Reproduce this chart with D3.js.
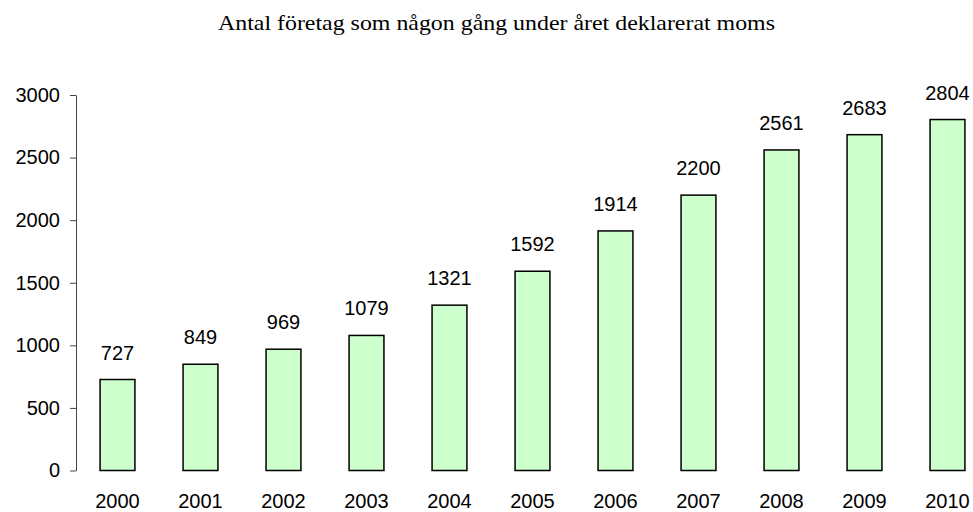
<!DOCTYPE html>
<html>
<head>
<meta charset="utf-8">
<script src="https://cdn.jsdelivr.net/npm/d3@7"></script>
<style>
  body { margin: 0; background: #fff; }
  svg { display: block; }
</style>
</head>
<body>
<svg id="chart"></svg>
<script>
const years = ['2000', '2001', '2002', '2003', '2004', '2005', '2006', '2007', '2008', '2009', '2010'];
const counts = [727, 849, 969, 1079, 1321, 1592, 1914, 2200, 2561, 2683, 2804];
const yTicks = [0, 500, 1000, 1500, 2000, 2500, 3000];
const title = 'Antal företag som någon gång under året deklarerat moms';

const width = 973;
const height = 512;
const labelFont = 'Liberation Sans, Arial, sans-serif';

const svg = d3.select('#chart')
  .attr('width', width)
  .attr('height', height);

const x = d3.scaleBand()
  .domain(years)
  .range([76, 989])
  .paddingInner(0.58)
  .paddingOuter(0.29);

const y = d3.scaleLinear()
  .domain([0, 3000])
  .range([470.5, 95]);

// title
svg.append('text')
  .attr('x', 496.5)
  .attr('y', 30)
  .attr('text-anchor', 'middle')
  .attr('font-family', 'Liberation Serif, Times New Roman, serif')
  .attr('font-size', '21px')
  .attr('textLength', 557)
  .attr('lengthAdjust', 'spacingAndGlyphs')
  .text(title);

// y axis
const yAxis = svg.append('g')
  .attr('transform', 'translate(76,0)')
  .call(d3.axisLeft(y).tickValues(yTicks).tickFormat(d3.format('d'))
    .tickSize(6).tickPadding(10).tickSizeOuter(0));

yAxis.select('.domain').attr('stroke', '#444');
yAxis.selectAll('.tick line').attr('stroke', '#444');
yAxis.selectAll('text')
  .attr('font-family', labelFont)
  .attr('font-size', '20px')
  .attr('fill', '#000');

// bars
svg.append('g')
  .selectAll('rect')
  .data(counts)
  .enter()
  .append('rect')
  .attr('x', (d, i) => x(years[i]))
  .attr('y', d => y(d))
  .attr('width', x.bandwidth())
  .attr('height', d => y(0) - y(d))
  .attr('fill', '#ccffcc')
  .attr('stroke', '#000')
  .attr('stroke-width', 1.5);

// value labels
svg.append('g')
  .selectAll('text')
  .data(counts)
  .enter()
  .append('text')
  .attr('x', (d, i) => x(years[i]) + x.bandwidth() / 2)
  .attr('y', d => y(d) - 20)
  .attr('text-anchor', 'middle')
  .attr('font-family', labelFont)
  .attr('font-size', '20px')
  .text(d => d);

// x labels
svg.append('g')
  .selectAll('text')
  .data(years)
  .enter()
  .append('text')
  .attr('x', d => x(d) + x.bandwidth() / 2)
  .attr('y', 508)
  .attr('text-anchor', 'middle')
  .attr('font-family', labelFont)
  .attr('font-size', '20px')
  .text(d => d);
</script>
</body>
</html>
